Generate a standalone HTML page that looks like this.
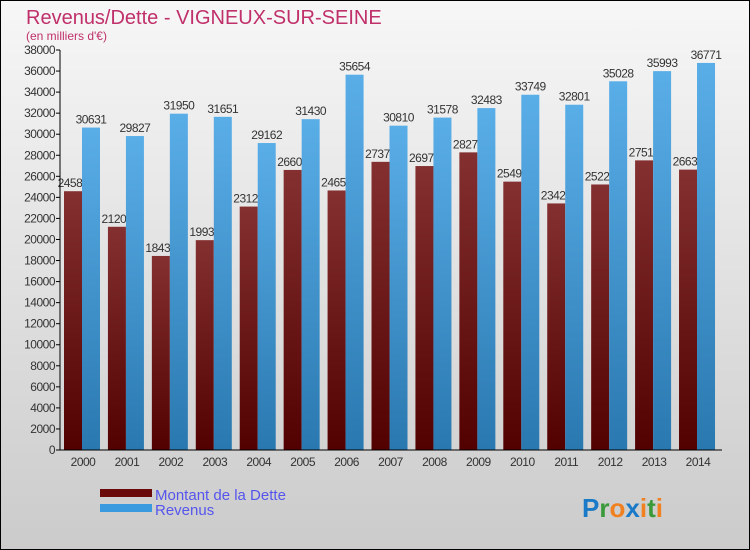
<!DOCTYPE html>
<html><head><meta charset="utf-8"><style>
body{margin:0}
svg{display:block;font-family:"Liberation Sans",sans-serif}
</style></head><body>
<svg id="c" width="750" height="550">
<defs>
<linearGradient id="bg" x1="0" y1="0" x2="0" y2="1"><stop offset="0" stop-color="#f7f7f7"/><stop offset="1" stop-color="#cbcbcb"/></linearGradient>
<linearGradient id="gd" x1="0" y1="0" x2="0" y2="1"><stop offset="0" stop-color="#843030"/><stop offset="1" stop-color="#520000"/></linearGradient>
<linearGradient id="gr" x1="0" y1="0" x2="0" y2="1"><stop offset="0" stop-color="#5aaee8"/><stop offset="1" stop-color="#2a78b0"/></linearGradient>
</defs>
<rect x="0.5" y="0.5" width="749" height="549" fill="url(#bg)" stroke="#000"/>
<text x="26" y="24" font-size="20" fill="#c0306a">Revenus/Dette - VIGNEUX-SUR-SEINE</text>
<text x="26" y="40" font-size="12" fill="#c0306a">(en milliers d'€)</text>
<g id="plot"></g>
<rect x="100" y="489" width="52" height="8" fill="#6a0a0a"/>
<text x="155" y="500" font-size="15" fill="#5555ee">Montant de la Dette</text>
<rect x="100" y="504" width="52" height="8" fill="#3a9ae0"/>
<text x="155" y="515" font-size="15" fill="#5555ee">Revenus</text>
<text x="582" y="517" font-size="26" font-weight="bold"><tspan fill="#1a7ac8">P</tspan><tspan fill="#3a9a3a">r</tspan><tspan fill="#f08020">o</tspan><tspan fill="#1a7ac8">x</tspan><tspan fill="#f08020">i</tspan><tspan fill="#3a9a3a">t</tspan><tspan fill="#f08020">i</tspan></text>
</svg>
<script>
const years=["2000","2001","2002","2003","2004","2005","2006","2007","2008","2009","2010","2011","2012","2013","2014"];
const dette=[24585,21205,18435,19935,23125,26605,24655,27375,26975,28275,25495,23425,25225,27515,26635];
const revenus=[30631,29827,31950,31651,29162,31430,35654,30810,31578,32483,33749,32801,35028,35993,36771];
const ticks=[0,2000,4000,6000,8000,10000,12000,14000,16000,18000,20000,22000,24000,26000,28000,30000,32000,34000,36000,38000];
const NS="http://www.w3.org/2000/svg",g=document.getElementById('plot');
const y=v=>450-v*400/38000, x0=i=>64+i*43.93;
function el(t,a,txt){const e=document.createElementNS(NS,t);for(const k in a)e.setAttribute(k,a[k]);if(txt!=null)e.textContent=txt;g.appendChild(e);return e;}
ticks.forEach(t=>{
 const l=el('line',{x1:56,x2:60,y1:y(t),y2:y(t),stroke:'#000'});
 
 
 const tx=el('text',{x:55,y:y(t)+4,'font-size':12,'text-anchor':'end',fill:'#333','letter-spacing':'-0.5'},t);
 
 
});
years.forEach((yr,i)=>{
 const b1=el('rect',{x:x0(i),y:y(dette[i]),width:18,height:450-y(dette[i]),fill:'url(#gd)'});
 
 
 const t1=el('text',{x:x0(i)+9,y:y(dette[i])-4,'font-size':12,'text-anchor':'middle',fill:'#333','letter-spacing':'-0.5'},String(dette[i]));
 
 
});
years.forEach((yr,i)=>{
 const b2=el('rect',{x:x0(i)+18,y:y(revenus[i]),width:18,height:450-y(revenus[i]),fill:'url(#gr)'});
 
 
 const t2=el('text',{x:x0(i)+27,y:y(revenus[i])-4,'font-size':12,'text-anchor':'middle',fill:'#333','letter-spacing':'-0.5'},String(revenus[i]));
 
 
 const xl=el('text',{x:x0(i)+19,y:466,'font-size':12,'text-anchor':'middle',fill:'#333','letter-spacing':'-0.5'},yr);
 
 
});
const ya=el('line',{x1:60,x2:60,y1:50,y2:450,stroke:'#000'});


const xa=el('line',{x1:60,x2:722,y1:450,y2:450,stroke:'#000'});


</script>
</body></html>
